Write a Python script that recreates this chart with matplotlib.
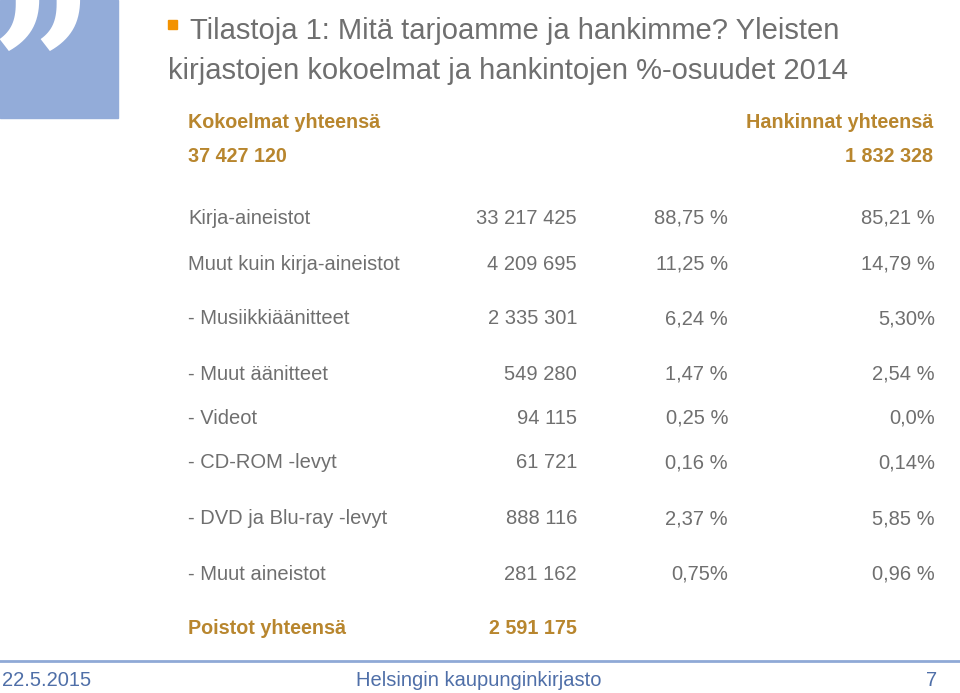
import matplotlib
matplotlib.use("Agg")
import matplotlib.pyplot as plt
from matplotlib.patches import Rectangle

title_lines = ["Tilastoja 1: Mitä tarjoamme ja hankimme? Yleisten",
               "kirjastojen kokoelmat ja hankintojen %-osuudet 2014"]
header_left = "Kokoelmat yhteensä"
header_right = "Hankinnat yhteensä"
total_left = "37 427 120"
total_right = "1 832 328"
row_labels = ["Kirja-aineistot", "Muut kuin kirja-aineistot", "- Musiikkiäänitteet",
              "- Muut äänitteet", "- Videot", "- CD-ROM -levyt",
              "- DVD ja Blu-ray -levyt", "- Muut aineistot"]
row_counts = ["33 217 425", "4 209 695", "2 335 301", "549 280", "94 115",
              "61 721", "888 116", "281 162"]
row_share_coll = ["88,75 %", "11,25 %", "6,24 %", "1,47 %", "0,25 %",
                  "0,16 %", "2,37 %", "0,75%"]
row_share_acq = ["85,21 %", "14,79 %", "5,30%", "2,54 %", "0,0%",
                 "0,14%", "5,85 %", "0,96 %"]
removed_label = "Poistot yhteensä"
removed_value = "2 591 175"
footer = ["22.5.2015", "Helsingin kaupunginkirjasto", "7"]

row_y = [216, 262, 317, 372, 416, 461, 517, 572]

W, H = 960, 693
fig = plt.figure(figsize=(9.6, 6.93), dpi=100)
ax = fig.add_axes([0, 0, 1, 1])
ax.set_xlim(0, W); ax.set_ylim(H, 0); ax.axis("off")

gray = "#6f6f6f"
brown = "#b8862e"
blue = "#4f6fa8"
fn = "Liberation Sans"
va = "center_baseline"

ax.add_patch(Rectangle((0, 0), 118, 118, color="#93acd9"))
ax.text(42, 82, "\u201d", color="white", fontsize=130, fontweight="bold",
        ha="center", va="center", family="DejaVu Serif")
ax.add_patch(Rectangle((168, 20), 9, 9, color="#f39200"))
ax.text(190, 28, title_lines[0], color=gray, fontsize=21, va=va, family=fn)
ax.text(168, 68, title_lines[1], color=gray, fontsize=21, va=va, family=fn)

fs = 14.5
hs = 14.2
ax.text(188, 120, header_left, color=brown, fontsize=hs, fontweight="bold", va=va, family=fn)
ax.text(933, 120, header_right, color=brown, fontsize=hs, fontweight="bold", va=va, ha="right", family=fn)
ax.text(188, 155, total_left, color=brown, fontsize=hs, fontweight="bold", va=va, family=fn)
ax.text(933, 155, total_right, color=brown, fontsize=hs, fontweight="bold", va=va, ha="right", family=fn)

for y, l, c, p1, p2 in zip(row_y, row_labels, row_counts, row_share_coll, row_share_acq):
    ax.text(188, y, l, color=gray, fontsize=fs, va=va, family=fn)
    ax.text(577, y, c, color=gray, fontsize=fs, va=va, ha="right", family=fn)
    ax.text(728, y, p1, color=gray, fontsize=fs, va=va, ha="right", family=fn)
    ax.text(935, y, p2, color=gray, fontsize=fs, va=va, ha="right", family=fn)

ax.text(188, 627, removed_label, color=brown, fontsize=hs, fontweight="bold", va=va, family=fn)
ax.text(577, 627, removed_value, color=brown, fontsize=hs, fontweight="bold", va=va, ha="right", family=fn)

ax.plot([0, W], [661, 661], color="#8fa9d6", lw=2)
ax.text(2, 678, footer[0], color=blue, fontsize=14.5, va=va, family=fn)
ax.text(479, 678, footer[1], color=blue, fontsize=14.5, va=va, ha="center", family=fn)
ax.text(937, 678, footer[2], color=blue, fontsize=14.5, va=va, ha="right", family=fn)

fig.savefig("out.png", dpi=100)
